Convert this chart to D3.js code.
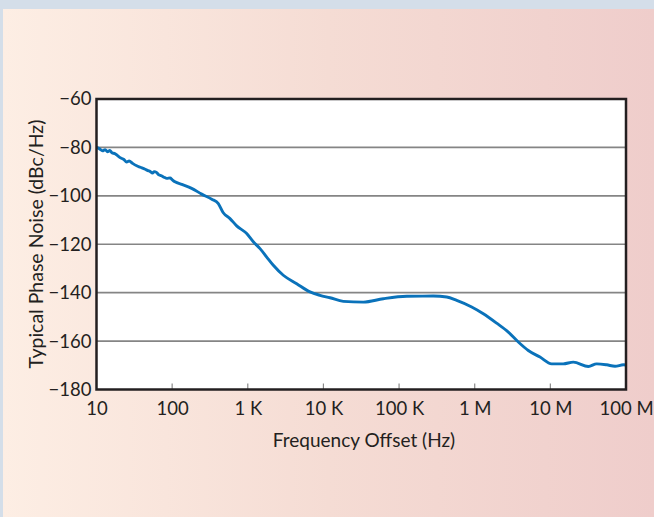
<!DOCTYPE html>
<html><head><meta charset="utf-8">
<script src="https://cdn.jsdelivr.net/npm/d3@7"></script>
<style>html,body{margin:0;padding:0;background:#fff;}svg{display:block;}</style>
</head><body>
<svg id="c" width="654" height="517"></svg>
<script>
// Data
const freqHz = [10,11,12,13,14,15,16,17.6,19,20.5,23,25,27,30,34,38,44,48,51,55,58,62,66,72,78,85,94,100,109,134,181,246,334,408,474,582,713,967,1183,1452,1778,2175,2948,4436,6650,9020,12220,18320,33650,61900,126200,283800,426600,578000,912000,1.3e6,1.95e6,2.78e6,3.77e6,5.11e6,7.3e6,1.04e7,1.48e7,2.01e7,3.18e7,4.1e7,5.56e7,7.16e7,9.23e7,1e8];
const phaseNoise = [-80.0,-80.6,-81.4,-80.9,-81.8,-81.3,-82.2,-82.6,-83.4,-84.2,-85.0,-86.0,-85.6,-86.6,-87.6,-88.2,-89.0,-89.6,-89.9,-90.6,-90.0,-90.3,-91.2,-91.7,-92.3,-92.8,-92.6,-93.3,-94.2,-95.3,-96.9,-99.3,-101.4,-103.2,-107.0,-109.4,-112.4,-115.6,-119.0,-121.8,-125.3,-128.7,-132.8,-136.3,-139.7,-141.1,-142.1,-143.6,-143.9,-142.5,-141.5,-141.4,-141.8,-143.2,-145.9,-148.7,-152.6,-156.3,-160.4,-163.9,-166.6,-169.4,-169.4,-168.7,-170.5,-169.4,-169.8,-170.4,-169.8,-169.9];
const xTickValues = [10,100,1e3,1e4,1e5,1e6,1e7,1e8];
const xTickLabels = ["10","100","1 K","10 K","100 K","1 M","10 M","100 M"];
const yTickValues = [-60,-80,-100,-120,-140,-160,-180];
const xTitle = "Frequency Offset (Hz)";
const yTitle = "Typical Phase Noise (dBc/Hz)";

const svg = d3.select("#c");
const W = 654, H = 517;
const font = "Lato, 'Noto Sans', sans-serif";
const ink = "#231f20";

const defs = svg.append("defs");
const g0 = defs.append("linearGradient").attr("id","bg").attr("x1","0").attr("x2","1").attr("y1","0").attr("y2","0");
g0.append("stop").attr("offset","0").attr("stop-color","#fdeee4");
g0.append("stop").attr("offset","0.5").attr("stop-color","#f5dcd4");
g0.append("stop").attr("offset","1").attr("stop-color","#efcdcb");

svg.append("rect").attr("width",W).attr("height",H).attr("fill","#d4dee9");
svg.append("rect").attr("x",3).attr("y",9).attr("width",W-3).attr("height",H-9).attr("fill","url(#bg)");

const L = 96.5, R = 626, T = 99, B = 389.5;
const x = d3.scaleLog().domain([10,1e8]).range([L,R]);
const y = d3.scaleLinear().domain([-180,-60]).range([B,T]);

svg.append("rect").attr("x",L).attr("y",T).attr("width",R-L).attr("height",B-T).attr("fill","#fff");

// gridlines
svg.append("g").selectAll("line").data(yTickValues.filter(v=>v>-180&&v<-60)).join("line")
  .attr("x1",L).attr("x2",R).attr("y1",d=>y(d)).attr("y2",d=>y(d))
  .attr("stroke","#858585").attr("stroke-width",1.6);

// x axis (inner ticks)
const xAxis = d3.axisBottom(x).tickValues(xTickValues).tickSize(0).tickPadding(12)
  .tickFormat((d,i)=>xTickLabels[i]);
const gx = svg.append("g").attr("transform",`translate(0,${B})`).call(xAxis);
gx.select(".domain").remove();
gx.selectAll("text").attr("font-family",font).attr("font-size",18.5).attr("fill",ink);
svg.append("g").selectAll("line").data(xTickValues.slice(1,-1)).join("line")
  .attr("x1",d=>x(d)).attr("x2",d=>x(d)).attr("y1",B).attr("y2",B-6)
  .attr("stroke","#8a8a8a").attr("stroke-width",1.2);

// y axis
const yAxis = d3.axisLeft(y).tickValues(yTickValues).tickSize(0).tickPadding(5)
  .tickFormat(d=>d3.format("d")(d).replace("-","\u2212"));
const gy = svg.append("g").attr("transform",`translate(${L},0)`).call(yAxis);
gy.select(".domain").remove();
gy.selectAll("text").attr("font-family",font).attr("font-size",18.5).attr("fill",ink);

// curve
const pts = freqHz.map((f,i)=>[f,phaseNoise[i]]);
const line = d3.line().x(d=>x(d[0])).y(d=>y(d[1])).curve(d3.curveMonotoneX);
svg.append("path").datum(pts).attr("d",line).attr("fill","none")
  .attr("stroke","#0a72ba").attr("stroke-width",2.9).attr("stroke-linejoin","round");

// frame
svg.append("rect").attr("x",L).attr("y",T).attr("width",R-L).attr("height",B-T)
  .attr("fill","none").attr("stroke",ink).attr("stroke-width",2.5);

// titles
svg.append("text").attr("x",364).attr("y",447).attr("text-anchor","middle")
  .attr("font-family",font).attr("font-size",19).attr("fill",ink).text(xTitle);
svg.append("text").attr("transform",`translate(43,244) rotate(-90)`).attr("text-anchor","middle")
  .attr("font-family",font).attr("font-size",19.5).attr("fill",ink).text(yTitle);
</script>
</body></html>
